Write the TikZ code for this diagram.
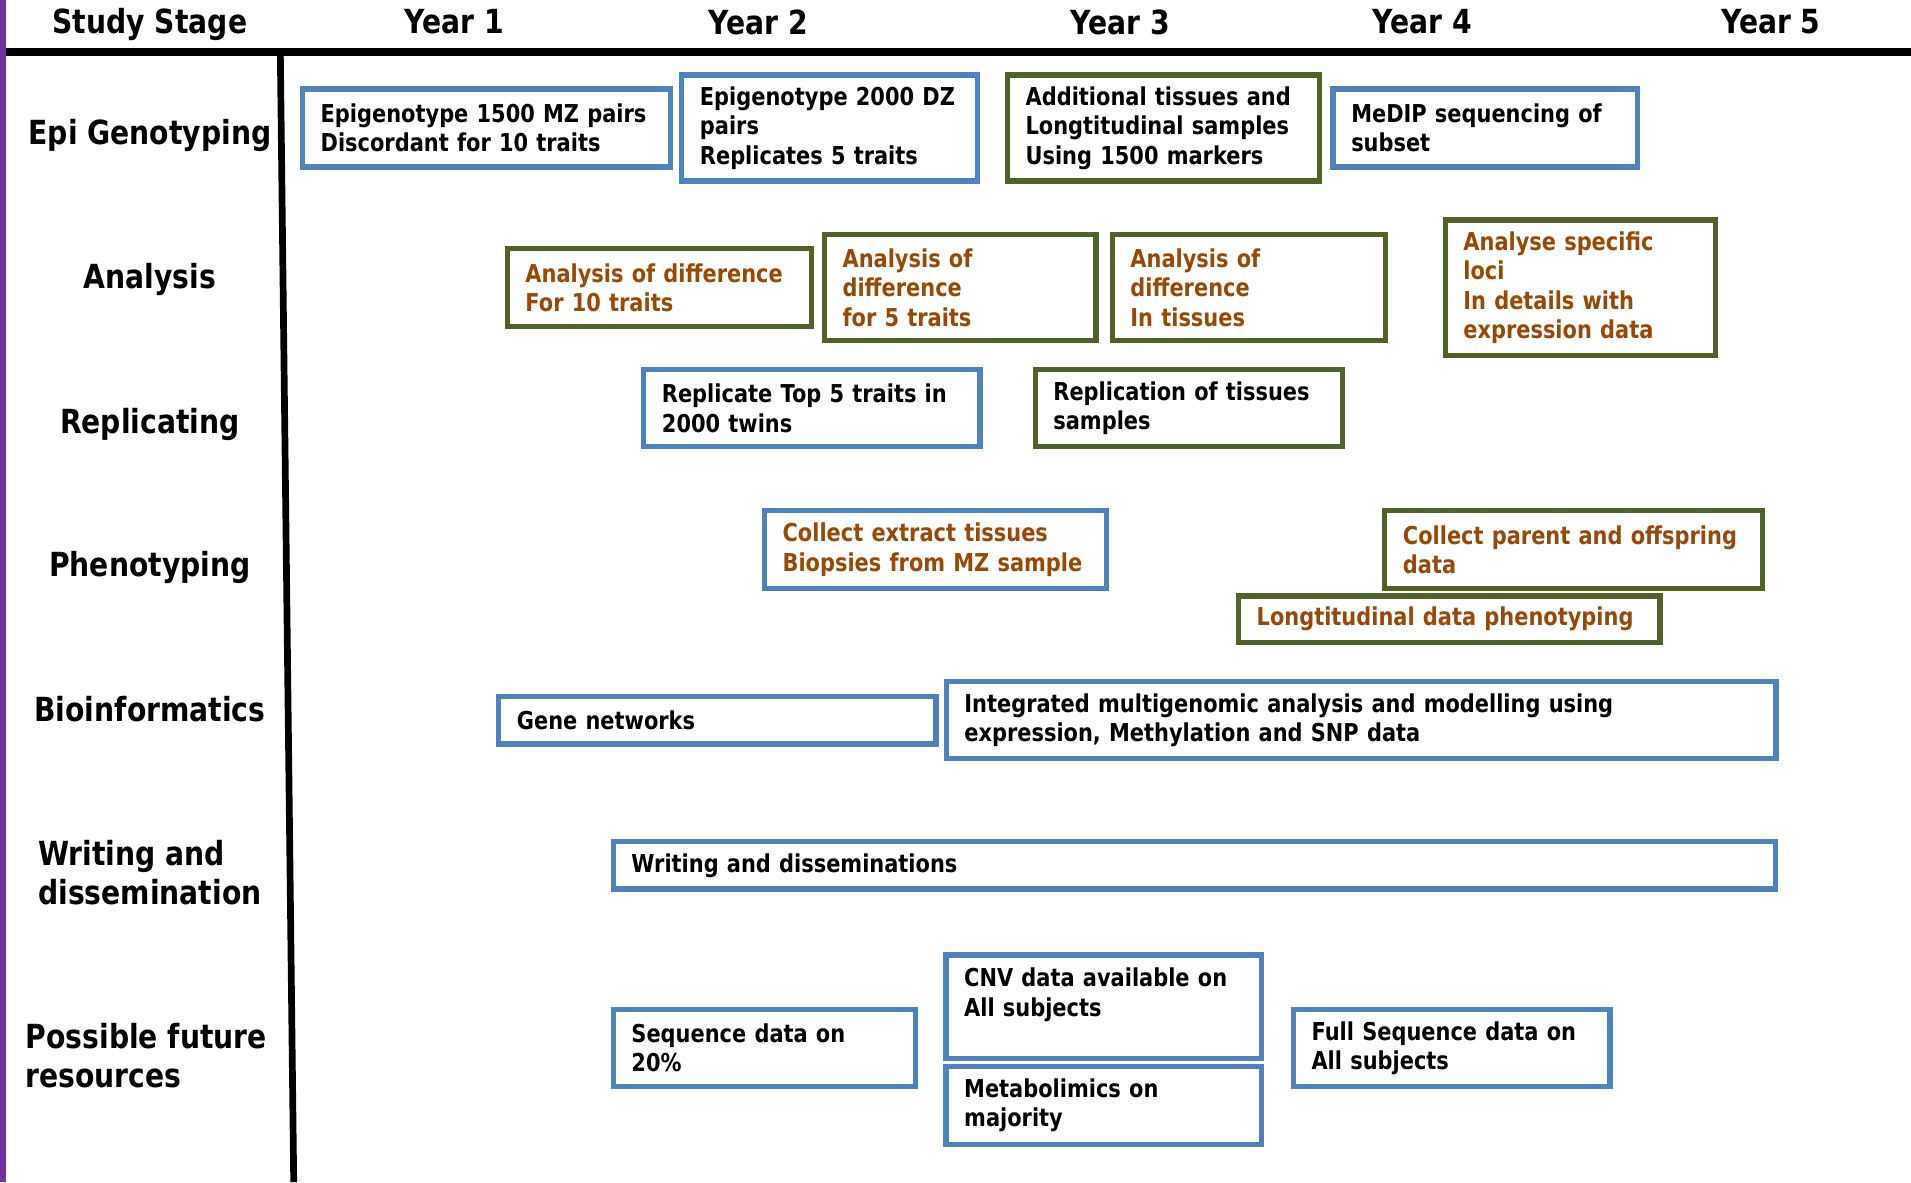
\documentclass[tikz,border=0pt]{standalone}
\usepackage{fontspec}
\setmainfont{DejaVu Sans}[FakeStretch=0.85]
\usetikzlibrary{positioning}
\definecolor{boxblue}{HTML}{4F81BD}
\definecolor{boxgreen}{HTML}{4F6228}
\definecolor{taskorange}{HTML}{984807}
\definecolor{edgepurple}{HTML}{7030A0}

\begin{document}
\begin{tikzpicture}[x=0.02cm,y=-0.02cm,
  task node/.style={draw,line width=0.085cm,inner xsep=0.3cm,inner ysep=2pt,align=left,anchor=west,
    font=\fontsize{11.5}{13.7}\selectfont\bfseries},
  blue node/.style={task node,draw=boxblue},
  green node/.style={task node,draw=boxgreen},
  stage node/.style={font=\fontsize{15.5}{18.2}\selectfont\bfseries,align=left}]

  \useasboundingbox (0,0) rectangle (1568,970);
  \fill[edgepurple] (0,0) rectangle (5,970);
  \draw[line width=0.125cm] (5,42.5) -- (1568,42.5);
  \draw[line width=0.11cm] (230,42.5) -- (241,970);

  \node[stage node] (stage) at (123,20) {Study Stage};
  \node[stage node] (y1) at (373,18) {Year 1};
  \node[stage node] (y2) at (622,18) {Year 2};
  \node[stage node] (y3) at (919,18) {Year 3};
  \node[stage node] (y4) at (1167,18) {Year 4};
  \node[stage node] (y5) at (1453,18) {Year 5};

  \node[stage node] (l1) at (123,111) {Epi Genotyping};
  \node[stage node] (l2) at (123,229) {Analysis};
  \node[stage node] (l3) at (123,348) {Replicating};
  \node[stage node] (l4) at (123,466) {Phenotyping};
  \node[stage node] (l5) at (123,582) {Bioinformatics};
  \node[stage node] (l6) at (123,716) {Writing and\\dissemination};
  \node[stage node] (l7) at (120,866) {Possible future\\resources};

  \node[blue node,text width=5.44cm,minimum height=1.28cm] (e1) at (246,105) {Epigenotype 1500 MZ pairs\\Discordant for 10 traits};
  \node[blue node,text width=4.26cm,minimum height=1.74cm] (e2) [right=0.1cm of e1] {Epigenotype 2000 DZ\\pairs\\Replicates 5 traits};
  \node[green node,text width=4.52cm,minimum height=1.74cm] (e3) [right=0.4cm of e2] {Additional tissues and\\Longtitudinal samples\\Using 1500 markers};
  \node[blue node,text width=4.40cm,minimum height=1.28cm] (e4) [right=0.14cm of e3] {MeDIP sequencing of\\subset};

  \node[green node,text=taskorange,text width=4.40cm,minimum height=1.28cm] (a1) at (414,236) {Analysis of difference\\For 10 traits};
  \node[green node,text=taskorange,text width=3.86cm,minimum height=1.74cm] (a2) [right=0.12cm of a1] {Analysis of\\difference\\for 5 traits};
  \node[green node,text=taskorange,text width=3.88cm,minimum height=1.74cm] (a3) [right=0.18cm of a2] {Analysis of\\difference\\In tissues};
  \node[green node,text=taskorange,text width=3.84cm,minimum height=2.22cm] (a4) [right=0.9cm of a3] {Analyse specific\\loci\\In details with\\expression data};

  \node[blue node,text width=4.92cm,minimum height=1.26cm] (r1) at (526,335) {Replicate Top 5 traits in\\2000 twins};
  \node[green node,text width=4.44cm,minimum height=1.26cm] (r2) [right=0.82cm of r1] {Replication of tissues\\samples};

  \node[blue node,text=taskorange,text width=5.02cm,minimum height=1.28cm] (p1) at (625,451) {Collect extract tissues\\Biopsies from MZ sample};
  \node[green node,text=taskorange,text width=5.60cm,minimum height=1.28cm] (p2) at (1134,451) {Collect parent and offspring\\data};
  \node[green node,text=taskorange,text width=6.32cm,minimum height=0.76cm] (p3) at (1014,508) {Longtitudinal data phenotyping};

  \node[blue node,text width=6.58cm,minimum height=0.78cm] (b1) at (407,591) {Gene networks};
  \node[blue node,text width=13.02cm,minimum height=1.26cm] (b2) [right=0.08cm of b1] {Integrated multigenomic analysis and modelling using\\expression, Methylation and SNP data};

  \node[blue node,text width=18.48cm,minimum height=0.78cm] (w1) at (501,710) {Writing and disseminations};

  \node[blue node,text width=4.36cm,minimum height=1.26cm] (f1) at (501,860) {Sequence data on\\20\%};
  \node[blue node,text width=4.58cm,minimum height=1.70cm] (f2) at (774,826) {CNV data available on\\All subjects\\\mbox{}};
  \node[blue node,text width=4.58cm,minimum height=1.28cm] (f3) [below=0.04cm of f2] {Metabolimics on\\majority};
  \node[blue node,text width=4.60cm,minimum height=1.26cm] (f4) at (1059,860) {Full Sequence data on\\All subjects};
\end{tikzpicture}
\end{document}
